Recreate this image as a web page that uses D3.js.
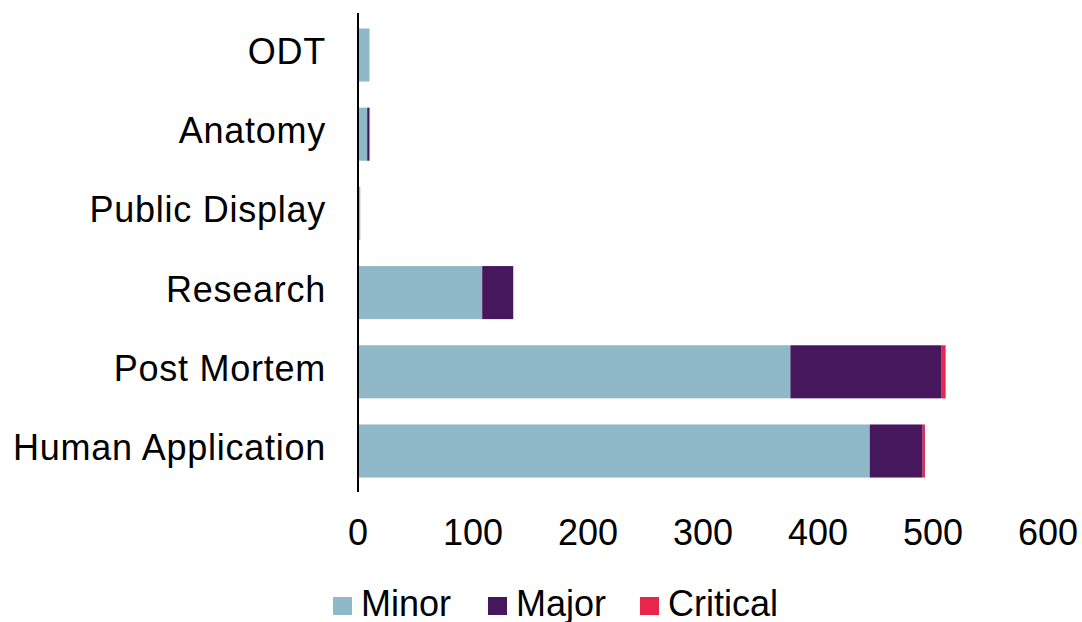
<!DOCTYPE html>
<html>
<head>
<meta charset="utf-8">
<script src="https://cdn.jsdelivr.net/npm/d3@7"></script>
<style>
  body { margin: 0; background: #fff; }
  text { font-family: "Liberation Sans", Arial, sans-serif; fill: #000; }
</style>
</head>
<body>
<div id="chart"></div>
<script>
// data
var categories = ["ODT", "Anatomy", "Public Display", "Research", "Post Mortem", "Human Application"];
var minor    = [10, 8, 2, 108, 376, 445];
var major    = [0, 2, 0, 27, 131, 46];
var critical = [0, 0, 0, 0, 4, 2];
var seriesNames = ["Minor", "Major", "Critical"];
var xTicks = [0, 100, 200, 300, 400, 500, 600];

var colors = { Minor: "#8fb8c8", Major: "#46175c", Critical: "#e8254a" };

var width = 1082, height = 622;
var margin = { top: 13, right: 34, bottom: 130, left: 358 };

var svg = d3.select("#chart").append("svg")
    .attr("width", width)
    .attr("height", height);

var rows = categories.map(function (c, i) {
  return { cat: c, Minor: minor[i], Major: major[i], Critical: critical[i] };
});
var stacked = d3.stack().keys(seriesNames)(rows);

var x = d3.scaleLinear()
    .domain([0, 600])
    .range([margin.left, width - margin.right]);

var y = d3.scaleBand()
    .domain(categories)
    .range([margin.top + 2, height - margin.bottom - 1])
    .paddingInner(0.33)
    .paddingOuter(0.17);

svg.append("g")
  .selectAll("g")
  .data(stacked)
  .join("g")
    .attr("fill", function (s) { return colors[s.key]; })
  .selectAll("rect")
  .data(function (s) { return s; })
  .join("rect")
    .attr("x", function (d) { return x(d[0]); })
    .attr("y", function (d) { return y(d.data.cat); })
    .attr("width", function (d) { return x(d[1]) - x(d[0]); })
    .attr("height", y.bandwidth());

// category labels
svg.append("g")
  .selectAll("text")
  .data(categories)
  .join("text")
    .attr("x", 326)
    .attr("y", function (c) { return y(c) + y.bandwidth() / 2; })
    .attr("dy", "0.25em")
    .attr("text-anchor", "end")
    .style("font-size", "36px")
    .style("letter-spacing", "0.75px")
    .text(function (c) { return c; });

// vertical axis line
svg.append("line")
    .attr("x1", x(0)).attr("x2", x(0))
    .attr("y1", margin.top).attr("y2", height - margin.bottom)
    .attr("stroke", "#000")
    .attr("stroke-width", 2);

// x tick labels (no axis line)
svg.append("g")
  .selectAll("text")
  .data(xTicks)
  .join("text")
    .attr("x", function (d) { return x(d); })
    .attr("y", 545)
    .attr("text-anchor", "middle")
    .style("font-size", "36px")
    .text(function (d) { return d; });

// legend
var legendX = [333, 488, 640];
var legend = svg.append("g")
  .selectAll("g")
  .data(seriesNames)
  .join("g")
    .attr("transform", function (d, i) { return "translate(" + legendX[i] + ",597)"; });
legend.append("rect")
    .attr("width", 19).attr("height", 18)
    .attr("fill", function (d) { return colors[d]; });
legend.append("text")
    .attr("x", 28)
    .attr("y", 19)
    .style("font-size", "36px")
    .text(function (d) { return d; });
</script>
</body>
</html>
